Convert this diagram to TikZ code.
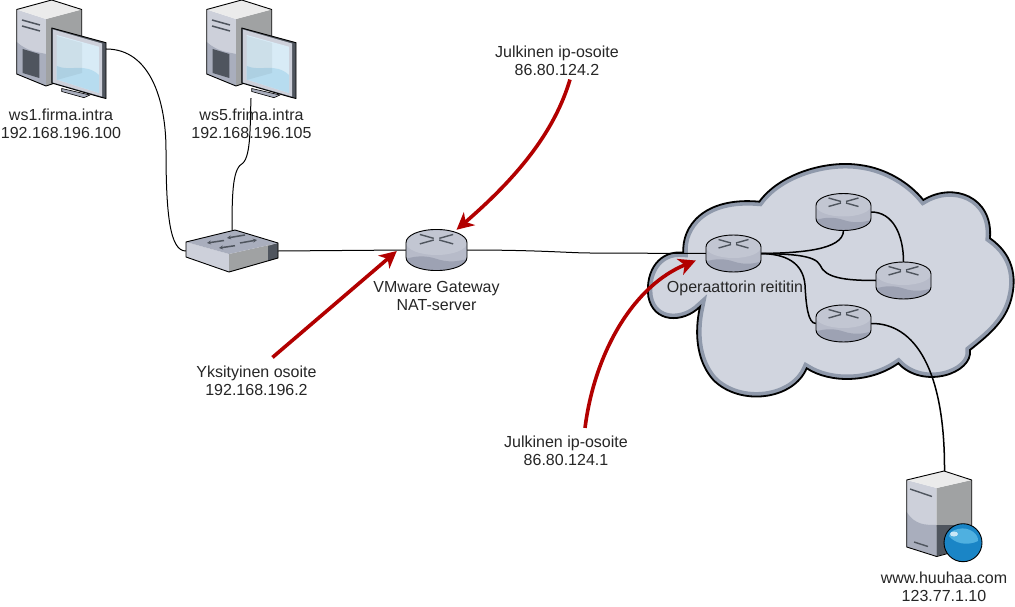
\documentclass[tikz,border=0pt]{standalone}
\usepackage{fontspec}
\setmainfont{Liberation Sans}
\usetikzlibrary{positioning, calc, arrows.meta}

\definecolor{redline}{HTML}{B20000}
\definecolor{cloudfill}{HTML}{D1D5DF}
\definecolor{cloudband}{HTML}{8F99AB}
\definecolor{bodygray}{HTML}{B7BBC9}
\definecolor{topgray}{HTML}{C2C6D2}
\definecolor{wavegray}{HTML}{9DA2B3}
\definecolor{darkgray}{HTML}{4F555E}
\definecolor{facelight}{HTML}{CDD0DA}
\definecolor{facemid}{HTML}{A9AEBD}
\definecolor{sidegray}{HTML}{A0A2A3}
\definecolor{screenlight}{HTML}{D8EBF6}
\definecolor{screenwave}{HTML}{B7DCEF}
\definecolor{globeblue}{HTML}{1A85C6}
\definecolor{globelight}{HTML}{4FB0E0}

\tikzset{
    label/.style={font=\fontsize{16}{18}\selectfont, text=black!85, align=center, inner sep=0pt},
    routerbox/.style={minimum width=55pt, minimum height=37pt, inner sep=0pt},
    link/.style={draw=black, line width=1pt},
    cloudlink/.style={draw=black, line width=1.5pt},
    redarrow/.style={draw=redline, line width=3.6pt, -{Stealth[length=17pt, width=17pt, inset=5pt]}},
    outline/.style={draw=black, line width=0.9pt, line join=round},
    mark line/.style={draw=darkgray, line width=1.4pt},
    switch mark/.style={draw=darkgray, line width=1.5pt, -{Stealth[length=4pt, width=4pt]}}
}

\newcommand{\routericon}[2]{
    \begin{scope}[shift={(#1.center)}, scale=#2]
        \fill[bodygray] (-27.5,-6.5) .. controls (-27.5,-13.5) and (-15,-18.5) .. (0,-18.5) .. controls (15,-18.5) and (27.5,-13.5) .. (27.5,-6.5) -- (27.5,6.5) .. controls (27.5,13.5) and (15,18.5) .. (0,18.5) .. controls (-15,18.5) and (-27.5,13.5) .. (-27.5,6.5) -- cycle;
        \fill[topgray] (0,-6.5) ellipse [x radius=27.5, y radius=11];
        \fill[wavegray] (-27.5,8) .. controls (-18,5) and (-9,5) .. (0,8) .. controls (9,11) and (18,11) .. (27.5,8) .. controls (26,14) and (15,18.5) .. (0,18.5) .. controls (-15,18.5) and (-26,14) .. (-27.5,8) -- cycle;
        \draw[outline] (-27.5,-6.5) .. controls (-27.5,-13.5) and (-15,-18.5) .. (0,-18.5) .. controls (15,-18.5) and (27.5,-13.5) .. (27.5,-6.5) -- (27.5,6.5) .. controls (27.5,13.5) and (15,18.5) .. (0,18.5) .. controls (-15,18.5) and (-27.5,13.5) .. (-27.5,6.5) -- cycle;
        \draw[mark line] (-15,-14) -- (-2.5,-10.5) (-15,-5.5) -- (-2.5,-9) (15,-14) -- (2.5,-10.5) (15,-5.5) -- (2.5,-9);
    \end{scope}
}

\newcommand{\pcicon}[1]{
    \begin{scope}[shift={(#1.center)}, shift={(-61,-49)}]
        \fill[facelight] (16.7,9.5) -- (46,19) -- (46,86) -- (16.7,74) -- cycle;
        \fill[facemid] (16.7,42) .. controls (28,52) and (38,52) .. (46,54) -- (46,86) -- (16.7,74) -- cycle;
        \fill[sidegray] (46,19) -- (81.7,9.5) -- (81.7,74) -- (46,86) -- cycle;
        \fill[black!8] (16.7,9.5) -- (51.7,0) -- (81.7,9.5) -- (46,19) -- cycle;
        \fill[darkgray] (22.7,49) -- (39.3,54) -- (39.3,78) -- (22.7,73) -- cycle;
        \draw[outline] (51.7,0) -- (81.7,9.5) -- (81.7,74) -- (46,86) -- (16.7,74) -- (16.7,9.5) -- cycle;
        \draw[draw=darkgray, line width=1.5pt] (22,20) -- (40,25) (22,26) -- (40,31);
        \draw[outline, fill=facemid, line width=0.6pt] (61.7,88.5) -- (90,95) -- (84,97.7) -- (61.7,91.5) -- cycle;
        \draw[outline, fill=darkgray] (51.7,28) -- (106,42.7) -- (106,98.5) -- (100,97) -- (51.7,83) -- cycle;
        \fill[facelight] (53,29.5) -- (102,43.5) -- (102,96.5) -- (53,82.5) -- cycle;
        \fill[screenlight] (56.7,35) -- (99,46.7) -- (99,93) -- (56.7,79.5) -- cycle;
        \fill[screenwave] (56.7,66) .. controls (70,72) and (85,62) .. (99,75) -- (99,93) -- (56.7,79.5) -- cycle;
        \fill[black, opacity=0.05] (56.7,36) -- (82,43) -- (82,73) -- (56.7,80) -- cycle;
    \end{scope}
}

\begin{document}
\begin{tikzpicture}[x=1pt, y=-1pt]
    \useasboundingbox (0,0) rectangle (1015,607);
    \fill[white] (0,0) rectangle (1015,607);

    % cloud
    \def\cloudpath{(130,278) .. controls (125,200) and (190,110) .. (358,125)
        .. controls (420,40) and (560,0) .. (660,15) .. controls (740,25) and (810,70) .. (850,120)
        .. controls (940,65) and (1060,110) .. (1050,235)
        .. controls (1130,290) and (1130,370) .. (1110,430) .. controls (1090,490) and (1040,530) .. (990,570)
        .. controls (1000,640) and (850,690) .. (775,610)
        .. controls (690,670) and (570,670) .. (500,625)
        .. controls (460,720) and (300,740) .. (220,660) .. controls (175,610) and (160,530) .. (180,440)
        .. controls (130,490) and (40,490) .. (25,410) .. controls (15,330) and (60,270) .. (130,278) -- cycle}
    \begin{scope}[shift={(640,160)}, x=0.3333pt, y=-0.3333pt]
        \fill[cloudfill] \cloudpath;
        \begin{scope}
            \clip \cloudpath;
            \draw[cloudband, line width=9pt] \cloudpath;
        \end{scope}
        \draw[draw=black, line width=1.8pt] \cloudpath;
    \end{scope}

    \node[minimum width=90pt, minimum height=98pt, inner sep=0pt] (ws1) at (61,49) {};
    \node[minimum width=90pt, minimum height=98pt, inner sep=0pt] (ws5) at (251,49) {};
    \node[minimum width=92pt, minimum height=42pt, inner sep=0pt] (sw) at (232,251) {};
    \node[routerbox, minimum width=61pt, minimum height=40pt] (gw) at (436.5,250) {};
    \node[routerbox] (rA) at (733.5,253.5) {};
    \node[routerbox] (rB) at (843.5,212) {};
    \node[routerbox] (rC) at (903.5,280.5) {};
    \node[routerbox] (rD) at (843.5,323.5) {};
    \node[minimum width=77pt, minimum height=91pt, inner sep=0pt] (srv) at (944.5,516.5) {};

    % links
    \draw[link] (ws1.east) .. controls (150,49) and (166,100) .. (166,150) .. controls (166,215) and (170,251) .. (sw.west);
    \draw[link] (ws5.south) .. controls (250,125) and (251,155) .. (243,163) .. controls (233,168) and (232,190) .. (sw.north);
    \draw[link] (sw.east) -- (gw.west);
    \draw[link] (gw.east) .. controls (540,250) and (570,253) .. (590,253) -- (rA.west);
    \draw[cloudlink] (rA.east) .. controls (800,253) and (843,250) .. (rB.south);
    \draw[cloudlink] (rB.east) .. controls (893,212) and (903.5,235) .. (rC.north);
    \draw[cloudlink] (rA.east) .. controls (790,254) and (815,255) .. (820,265) .. controls (825,278) and (845,280.5) .. (rC.west);
    \draw[cloudlink] (rA.east) .. controls (785,254) and (803,262) .. (805,285) .. controls (806,305) and (808,323.5) .. (rD.west);
    \draw[cloudlink] (rD.east) .. controls (915,323) and (945,370) .. (srv.north);

    \routericon{gw}{1.11}
    \routericon{rA}{1}
    \routericon{rB}{1}
    \routericon{rC}{1}
    \routericon{rD}{1}
    \pcicon{ws1}
    \pcicon{ws5}

    % switch
    \fill[facelight] (186,242) -- (229,254) -- (229,272) -- (186,257) -- cycle;
    \fill[sidegray] (229,254) -- (278,243) -- (278,258) -- (229,272) -- cycle;
    \fill[darkgray] (268,246) -- (278,243) -- (278,258) -- (268,261) -- cycle;
    \fill[facemid] (186,242) -- (235,230) -- (278,243) -- (229,254) -- cycle;
    \draw[outline] (186,242) -- (235,230) -- (278,243) -- (278,258) -- (229,272) -- (186,257) -- cycle;
    \draw[switch mark] (224,240.5) -- (207,243);
    \draw[switch mark] (245,235) -- (227,238);
    \draw[switch mark] (235,245.7) -- (219,248);
    \draw[switch mark] (240,243) -- (257,240);

    % server
    \fill[facelight] (906.7,480) -- (936.7,488) -- (936.7,556) -- (906.7,547) -- cycle;
    \fill[facemid] (906.7,512) .. controls (915,525) and (925,525) .. (936.7,525) -- (936.7,556) -- (906.7,547) -- cycle;
    \fill[sidegray] (936.7,488) -- (971.7,480) -- (971.7,525) -- (936.7,527) -- cycle;
    \fill[darkgray] (936.7,525) -- (971.7,525) -- (971.7,547) -- (936.7,556) -- cycle;
    \fill[black!8] (906.7,480) -- (944,471) -- (971.7,480) -- (936.7,488) -- cycle;
    \draw[outline] (944,471) -- (971.7,480) -- (971.7,547) -- (936.7,556.5) -- (906.7,547) -- (906.7,480) -- cycle;
    \draw[mark line] (910,489) -- (932,496.5) (914,542) -- (928,546.5);
    \draw[outline, fill=globeblue] (963,542.7) circle [radius=19];
    \fill[globelight] (958,529) .. controls (970,526) and (979,535) .. (978,541) .. controls (968,546) and (955,544) .. (949,536) .. controls (950,532) and (953,530) .. (958,529) -- cycle;
    \fill[white!70!globelight] (954,534) ellipse [x radius=4, y radius=2.5];

    % labels
    \node[label] (ws1lbl) at (61,124) {ws1.firma.intra\\192.168.196.100};
    \node[label] (ws5lbl) at (251.5,124) {ws5.frima.intra\\192.168.196.105};
    \node[label] (gwlbl) at (436.5,296) {VMware Gateway\\NAT-server};
    \node[label] (pubA) at (557,60.5) {Julkinen ip-osoite\\86.80.124.2};
    \node[label] (privA) at (256.5,380.5) {Yksityinen osoite\\192.168.196.2};
    \node[label] (pubB) at (566,451) {Julkinen ip-osoite\\86.80.124.1};
    \node[label] (rAlbl) at (735,288) {Operaattorin reititin};
    \node[label] (srvlbl) at (944,587) {www.huuhaa.com\\123.77.1.10};

    % red arrows
    \draw[redarrow] ($(pubA.south)+(13,4)$) .. controls (555,130) and (520,175) .. ($(gw.north)+(20,0)$);
    \draw[redarrow] ($(privA.north)+(16,-8)$) -- ($(gw.west)+(-9,1)$);
    \draw[redarrow] ($(pubB.north)+(19,-8)$) .. controls (595,350) and (635,285) .. ($(rA.west)+(-10,7)$);
\end{tikzpicture}
\end{document}
